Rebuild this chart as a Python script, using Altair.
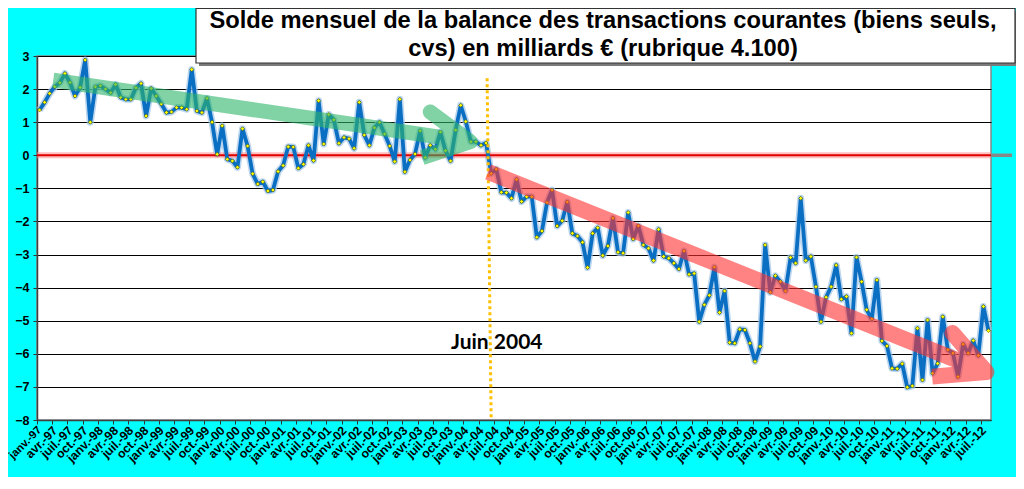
import altair as alt
import pandas as pd

# Monthly balance, janv.-97 .. août-12 (billions €)
values = [
    1.37, 1.60, 1.87, 2.07, 2.19, 2.47, 2.20, 1.79, 2.05, 2.88, 1.00, 2.07,
    2.10, 2.00, 1.89, 2.14, 1.75, 1.69, 1.69, 2.04, 2.17, 1.19, 2.02, 1.79,
    1.55, 1.29, 1.31, 1.44, 1.44, 1.39, 2.59, 1.34, 1.29, 1.72, 1.00, 0.03,
    0.89, -0.12, -0.17, -0.36, 0.80, 0.28, -0.56, -0.87, -0.80, -1.08, -1.05, -0.49,
    -0.31, 0.26, 0.25, -0.39, -0.27, 0.30, -0.16, 1.65, 0.34, 1.23, 1.07, 0.36,
    0.54, 0.50, 0.21, 1.60, 0.61, 0.30, 0.83, 1.00, 0.64, 0.28, -0.19, 1.69,
    -0.50, -0.14, 0.04, 0.74, -0.07, 0.30, 0.18, 0.70, 0.14, -0.17, 0.76, 1.51,
    1.02, 0.41, 0.41, 0.30, 0.37, -0.55, -0.42, -1.12, -1.13, -1.30, -0.73, -1.40,
    -1.25, -1.25, -2.48, -2.29, -1.43, -1.05, -2.14, -1.98, -1.41, -2.36, -2.44, -2.63,
    -3.39, -2.36, -2.19, -3.03, -2.74, -1.90, -2.93, -2.96, -1.73, -2.53, -2.13, -2.71,
    -2.81, -3.18, -2.24, -3.06, -3.11, -3.26, -3.44, -2.89, -3.60, -3.57, -5.03, -4.52,
    -4.23, -3.38, -4.75, -4.10, -5.66, -5.68, -5.26, -5.28, -5.68, -6.23, -5.78, -2.71,
    -4.14, -3.64, -3.82, -4.10, -3.09, -3.26, -1.30, -3.18, -3.06, -3.97, -5.03, -4.29,
    -3.97, -3.32, -4.35, -4.27, -5.38, -3.08, -3.82, -4.67, -4.95, -3.77, -5.61, -5.76,
    -6.44, -6.45, -6.30, -7.01, -6.97, -5.23, -6.79, -4.98, -6.59, -6.29, -4.88, -5.88,
    -5.98, -6.69, -5.71, -5.98, -5.60, -6.05, -4.57, -5.30,
]
months = list(range(len(values)))
quarter_names = ["janv.", "avr.", "juil.", "oct."]
label_months = list(range(0, 187, 3))
y_ticks = list(range(-8, 4))

# annotation data (month index, value)
green_arrow_m = [2.7, 84.9, 77.0, 84.9, 75.4]
green_arrow_v = [2.27, 0.41, 1.31, 0.41, -0.07]
red_arrow_m = [88.4, 186.6, 179.9, 186.6, 175.9]
red_arrow_v = [-0.5, -6.55, -5.37, -6.55, -6.69]
juin_line_m = [88.2, 89.0]
juin_line_v = [2.33, -8.0]
juin_label = "Juin 2004"
juin_label_pos = [90.1, -5.85]
title_lines = [
    "Solde mensuel de la balance des transactions courantes (biens seuls,",
    "cvs) en milliards € (rubrique 4.100)",
]

df = pd.DataFrame({"m": months, "v": values})
xscale = alt.Scale(domain=[-0.5, 187.5], nice=False, zero=False)
yscale = alt.Scale(domain=[-8, 3], nice=False, zero=False)

qn = "[" + ",".join("'" + q + "'" for q in quarter_names) + "]"
yy = "((floor(datum.value/12)+97)%100)"
label_expr = qn + "[floor(datum.value/3)%4] + '-' + (" + yy + " < 10 ? '0' : '') + " + yy

x_axis = alt.Axis(values=label_months, labelExpr=label_expr, labelAngle=315,
                  labelAlign="right", labelBaseline="middle",
                  labelFontSize={"condition": {"test": "datum.value == 0", "value": 11.2},
                                 "value": 12.3},
                  labelFontWeight="bold", labelFont="Liberation Sans",
                  labelColor="black", tickSize=4, tickColor="#333",
                  tickOffset=-2.5, labelOffset=2.5, labelPadding=4,
                  domainColor="#404040", domainWidth=1.5, grid=False,
                  labelOverlap=False, labelBound=False, labelFlush=False)
y_axis = alt.Axis(values=y_ticks, grid=True, gridColor="black", gridWidth=1,
                  gridOpacity=1, labelFontSize=12.5, labelFontWeight="bold",
                  labelFont="Liberation Sans", labelColor="black", tickSize=4,
                  tickColor="#333", labelPadding=4, domainColor="#404040",
                  domainWidth=1.5, labelOverlap=False)

def xq():
    return alt.X("m:Q", scale=xscale, title=None, axis=x_axis)

def yq():
    return alt.Y("v:Q", scale=yscale, title=None, axis=y_axis)

base = alt.Chart(df)

zero_df = pd.DataFrame({"v": [0]})
zero_halo = alt.Chart(zero_df).mark_rule(color="#ff8c8c", strokeWidth=6, opacity=0.55).encode(y=yq())
zero_line = alt.Chart(zero_df).mark_rule(color="#e00000", strokeWidth=2).encode(y=yq())
zero_ext = alt.Chart(zero_df).mark_rule(color="#888888", strokeWidth=3.5).encode(
    y=yq(), x=alt.value(954), x2=alt.value(975))

halo = base.mark_line(color="#9fc4ea", strokeWidth=7, opacity=0.7, strokeJoin="round").encode(x=xq(), y=yq())
line = base.mark_line(color="#0a6fc2", strokeWidth=3.8, strokeJoin="round").encode(x=xq(), y=yq())
pts = base.mark_point(filled=True, shape="diamond", size=16, fill="#ffff00",
                      stroke="#555500", strokeWidth=0.6, opacity=1).encode(x=xq(), y=yq())

juin_df = pd.DataFrame({"m": [juin_line_m[0]], "m2": [juin_line_m[1]],
                        "v": [juin_line_v[0]], "v2": [juin_line_v[1]]})
juin_rule = alt.Chart(juin_df).mark_rule(color="#ffc000", strokeWidth=3, strokeDash=[3, 3]).encode(
    x=xq(), x2=alt.X2("m2", title=None), y=yq(), y2=alt.Y2("v2", title=None))

def arrow(ms, vs, color, width):
    d = pd.DataFrame({"m": ms, "v": vs, "o": list(range(len(ms)))})
    return alt.Chart(d).mark_line(color=color, strokeWidth=width, opacity=0.6,
                                  strokeJoin="round", strokeCap="butt").encode(
        x=xq(), y=yq(), order="o:Q")

green = arrow(green_arrow_m, green_arrow_v, "#2db56a", 15)
red = arrow(red_arrow_m, red_arrow_v, "#ff3030", 16)

jl_df = pd.DataFrame({"m": [juin_label_pos[0]], "v": [juin_label_pos[1]], "t": [juin_label]})
jl = alt.Chart(jl_df).mark_text(font="Lato", fontWeight="bold", fontSize=21, color="black",
                                align="center", baseline="alphabetic").encode(
    x=xq(), y=yq(), text="t:N")

one = pd.DataFrame({"a": [0]})
shadow = alt.Chart(one).mark_rect(color="#7a7a7a").encode(
    x=alt.value(162), x2=alt.value(981), y=alt.value(-44.5), y2=alt.value(10))
box = alt.Chart(one).mark_rect(fill="white", stroke="#333333", strokeWidth=1.2).encode(
    x=alt.value(159), x2=alt.value(978), y=alt.value(-47.5), y2=alt.value(7))
t1 = alt.Chart(pd.DataFrame({"t": [title_lines[0]]})).mark_text(
    font="Liberation Sans", fontWeight="bold", fontSize=23.7, color="black",
    align="center", baseline="alphabetic").encode(x=alt.value(566), y=alt.value(-28.2), text="t:N")
t2 = alt.Chart(pd.DataFrame({"t": [title_lines[1]]})).mark_text(
    font="Liberation Sans", fontWeight="bold", fontSize=23.7, color="black",
    align="center", baseline="alphabetic").encode(x=alt.value(566), y=alt.value(0), text="t:N")

chart = alt.layer(
    halo, zero_halo, zero_line, line, pts, juin_rule, green, red, jl, zero_ext,
    shadow, box, t1, t2
).properties(
    width=954, height=364,
    autosize=alt.AutoSizeParams(type="none"),
    padding={"left": 29, "top": 48, "right": 25, "bottom": 57},
    background="#00ffff",
).configure_view(fill="white", stroke="#888888", strokeWidth=1.5)

chart.save("out.html", embed_options={"renderer": "svg", "actions": False})
